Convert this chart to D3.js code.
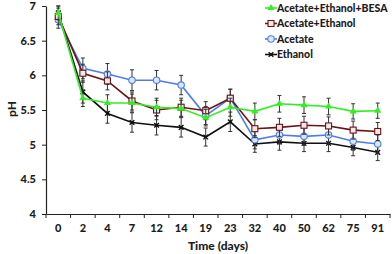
<!DOCTYPE html>
<html>
<head>
<meta charset="utf-8">
<script src="https://cdn.jsdelivr.net/npm/d3@7"></script>
<style>
  body { margin: 0; background: #fff; }
  text { font-family: Lato, "Open Sans", sans-serif; font-weight: 900; fill: #1c1c1c; }
</style>
</head>
<body>
<svg id="chart" width="392" height="254"></svg>
<script>
const days = ['0', '2', '4', '7', '12', '14', '19', '23', '32', '40', '50', '62', '75', '91'];
const yTicks = [4, 4.5, 5, 5.5, 6, 6.5, 7];

const besa = [6.9, 5.67, 5.6, 5.6, 5.54, 5.52, 5.39, 5.54, 5.48, 5.59, 5.57, 5.55, 5.48, 5.49];
const acEth = [6.85, 6.03, 5.92, 5.63, 5.5, 5.54, 5.49, 5.67, 5.23, 5.25, 5.28, 5.27, 5.21, 5.19];
const acetate = [6.8, 6.1, 6.02, 5.93, 5.93, 5.86, 5.42, 5.67, 5.07, 5.14, 5.12, 5.14, 5.05, 5.01];
const ethanol = [6.9, 5.76, 5.45, 5.32, 5.28, 5.25, 5.11, 5.33, 5.01, 5.04, 5.02, 5.02, 4.96, 4.89];

const besaErr = [0.1, 0.12, 0.12, 0.13, 0.13, 0.12, 0.12, 0.13, 0.12, 0.12, 0.12, 0.12, 0.11, 0.11];
const acEthErr = [0.12, 0.13, 0.13, 0.13, 0.14, 0.13, 0.13, 0.13, 0.13, 0.13, 0.13, 0.13, 0.13, 0.13];
const acetateErr = [0.12, 0.15, 0.15, 0.15, 0.14, 0.14, 0.13, 0.13, 0.13, 0.13, 0.13, 0.13, 0.13, 0.13];
const ethanolErr = [0.1, 0.16, 0.14, 0.14, 0.14, 0.14, 0.13, 0.14, 0.12, 0.12, 0.12, 0.12, 0.12, 0.12];

const series = [
  { name: 'Acetate+Ethanol+BESA', values: besa, err: besaErr, color: '#33ee22', marker: 'triangle' },
  { name: 'Acetate+Ethanol', values: acEth, err: acEthErr, color: '#6b1414', marker: 'square' },
  { name: 'Acetate', values: acetate, err: acetateErr, color: '#4a7cf0', marker: 'circle' },
  { name: 'Ethanol', values: ethanol, err: ethanolErr, color: '#111111', marker: 'star' }
];

const svg = d3.select('#chart');

const x = d3.scaleBand().domain(days).range([46, 390]);
const y = d3.scaleLinear().domain([4, 7]).range([214, 6]);
const cx = d => x(d) + x.bandwidth() / 2;

// y axis
svg.append('g')
  .attr('transform', 'translate(46,0)')
  .call(d3.axisLeft(y).tickValues(yTicks).tickSize(4).tickSizeOuter(0).tickFormat(d3.format('')))
  .call(g => g.selectAll('text').attr('font-size', 11).attr('dx', -3))
  .call(g => g.select('.domain').attr('stroke', '#222').attr('stroke-width', 1.2))
  .call(g => g.selectAll('.tick line').attr('stroke', '#222'));

// x axis: labels at band centres, ticks at band edges
svg.append('g')
  .attr('transform', 'translate(0,214)')
  .call(d3.axisBottom(x).tickSize(0).tickSizeOuter(0).tickPadding(10))
  .call(g => g.selectAll('text').attr('font-size', 11))
  .call(g => g.select('.domain').attr('stroke', '#222').attr('stroke-width', 1.2));

const edges = days.map(d => x(d)).concat([x.range()[1]]);
svg.append('g').selectAll('line').data(edges).join('line')
  .attr('x1', d => d).attr('x2', d => d)
  .attr('y1', 214).attr('y2', 218)
  .attr('stroke', '#222');

svg.append('text')
  .attr('x', 218).attr('y', 250)
  .attr('text-anchor', 'middle')
  .attr('font-size', 12)
  .text('Time (days)');

svg.append('text')
  .attr('transform', 'translate(16,109) rotate(-90)')
  .attr('text-anchor', 'middle')
  .attr('font-size', 12)
  .text('pH');

const line = d3.line().x((d, i) => cx(days[i])).y(d => y(d));

function drawMarker(g, type, color) {
  if (type === 'triangle') {
    g.append('path').attr('d', d3.symbol(d3.symbolTriangle, 22)()).attr('fill', color);
  } else if (type === 'square') {
    g.append('rect').attr('x', -3).attr('y', -3).attr('width', 6).attr('height', 6)
      .attr('fill', '#f4e8e8').attr('stroke', color).attr('stroke-width', 1.1);
  } else if (type === 'circle') {
    g.append('circle').attr('r', 3.2).attr('fill', '#dfe8fb').attr('stroke', color).attr('stroke-width', 1.1);
  } else {
    g.append('path').attr('d', d3.symbol(d3.symbolX, 16)()).attr('stroke', color).attr('stroke-width', 1.4);
    g.append('circle').attr('r', 1.3).attr('fill', color);
  }
}

// ethanol drawn first so the lighter series sit on top
series.slice().reverse().forEach(s => {
  const g = svg.append('g');
  s.values.forEach((v, i) => {
    const px = cx(days[i]);
    const y1 = y(v + s.err[i]), y2 = y(v - s.err[i]);
    g.append('line').attr('x1', px).attr('x2', px).attr('y1', y1).attr('y2', y2)
      .attr('stroke', '#333').attr('stroke-width', 1);
    [y1, y2].forEach(yy => g.append('line')
      .attr('x1', px - 2).attr('x2', px + 2).attr('y1', yy).attr('y2', yy)
      .attr('stroke', '#333').attr('stroke-width', 1));
  });
  g.append('path').datum(s.values)
    .attr('d', line)
    .attr('fill', 'none')
    .attr('stroke', s.color)
    .attr('stroke-width', 1.6);
  s.values.forEach((v, i) => {
    const m = g.append('g').attr('transform', `translate(${cx(days[i])},${y(v)})`);
    drawMarker(m, s.marker, s.color);
  });
});

// legend
const legend = svg.append('g');
series.forEach((s, i) => {
  const ly = 8 + i * 15.5;
  const lg = legend.append('g');
  lg.append('line').attr('x1', 265).attr('x2', 277).attr('y1', ly).attr('y2', ly)
    .attr('stroke', s.color).attr('stroke-width', 1.6);
  const m = lg.append('g').attr('transform', `translate(271,${ly})`);
  drawMarker(m, s.marker, s.color);
  lg.append('text').attr('x', 277).attr('y', ly + 3.8)
    .attr('font-size', 10.5).text(s.name);
});
</script>
</body>
</html>
